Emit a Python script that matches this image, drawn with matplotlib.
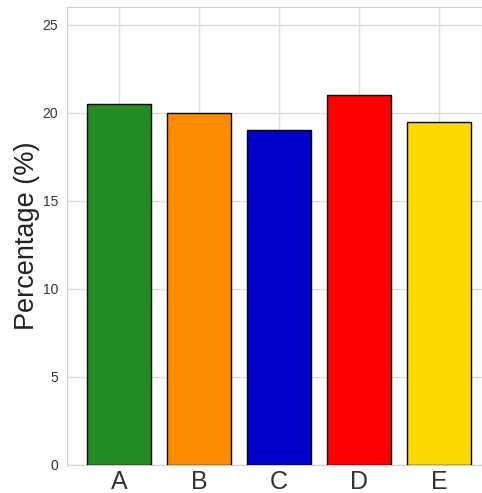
import matplotlib
matplotlib.use('Agg')
import matplotlib.pyplot as plt
import seaborn as sns

categories = ['A', 'B', 'C', 'D', 'E']
values = [20.5, 20.0, 19.0, 21.0, 19.5]
colors = ['forestgreen', 'darkorange', 'mediumblue', 'red', 'gold']

sns.set_style('whitegrid')
plt.rcParams['font.family'] = ['Liberation Sans', 'DejaVu Sans']

fig = plt.figure(figsize=(4.82, 4.93), dpi=100)
ax = fig.add_axes([67/482, 28/493, 1 - 67/482, 458/493])

ax.bar(range(len(categories)), values, width=0.8, color=colors,
       edgecolor='black', linewidth=1.0, zorder=3)

ax.set_xticks(range(len(categories)))
ax.set_xticklabels(categories, fontsize=18, color='#333333')
ax.set_xlim(-0.65, 4.54)
ax.set_ylim(0, 26)
ax.set_yticks([0, 5, 10, 15, 20, 25])
ax.tick_params(axis='y', labelsize=10, colors='#333333', pad=3)
ax.tick_params(axis='x', pad=0)
ax.set_ylabel('Percentage (%)', fontsize=19.5, color='#222222')
ax.yaxis.set_label_coords(-0.066, 0.5)

for s in ax.spines.values():
    s.set_color('#cccccc')
ax.grid(True, color='#dddddd', linewidth=1)

fig.savefig('out.png', dpi=100)
